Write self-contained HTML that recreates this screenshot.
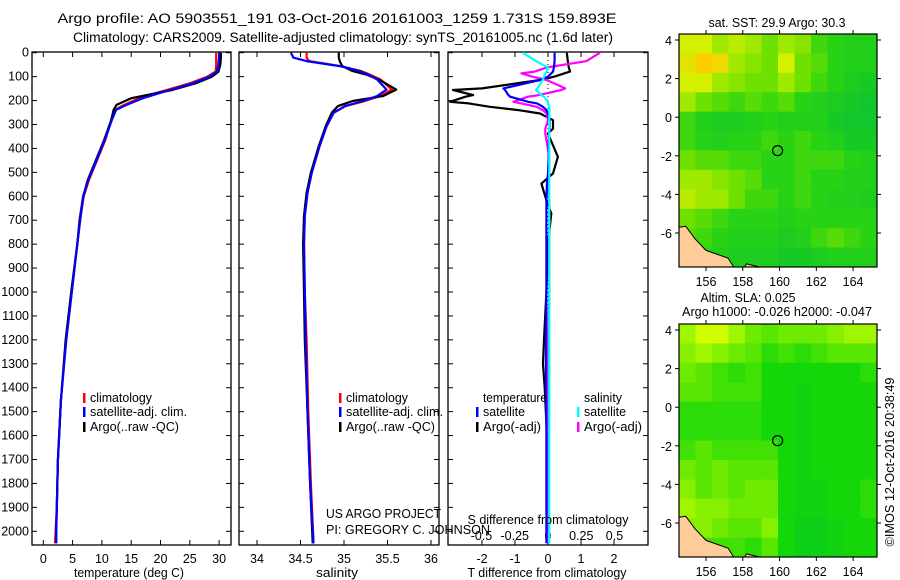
<!DOCTYPE html>
<html><head><meta charset="utf-8">
<style>
html,body{margin:0;padding:0;background:#fff;}
svg{display:block;font-family:"Liberation Sans",sans-serif;}
text{font-size:12.5px;fill:#000;}
</style></head><body>
<svg id="c" width="900" height="580" viewBox="0 0 900 580" xmlns="http://www.w3.org/2000/svg">
<text x="337" y="23" text-anchor="middle" style="font-size:13.5px" textLength="559" lengthAdjust="spacingAndGlyphs">Argo profile: AO 5903551_191 03-Oct-2016 20161003_1259 1.731S 159.893E</text>
<text x="343" y="42" text-anchor="middle" style="font-size:13.5px" textLength="540" lengthAdjust="spacingAndGlyphs">Climatology: CARS2009. Satellite-adjusted climatology: synTS_20161005.nc (1.6d later)</text>
<g id="g"></g>
</svg>
<script>
// ---- data ----
const depthsT = [0,20,50,79,100,128,156,190,218,239,281,364,448,531,601,698,800,993,1202,1453,1703,1900,2000,2050];
const tempClimSat = [30.0,30.0,29.9,29.6,28.4,25.5,21.6,17.0,14.2,12.4,11.7,10.5,9.1,7.7,6.8,6.3,5.8,4.9,3.9,3.0,2.5,2.3,2.2,2.2];
const tempClim = [29.5,29.5,29.5,29.4,28.0,25.0,21.0,16.3,13.8,12.2,11.6,10.6,9.2,7.8,6.9,6.3,5.8,4.9,3.9,3.0,2.5,2.3,2.1,2.0];
const tempArgo = [30.3,30.3,30.2,29.9,28.8,26.0,22.0,15.0,12.5,12.0,11.6,10.4,9.0,7.6,6.8,6.2,5.8,4.8,3.8,3.0,2.5,2.3,2.2,2.2];
const depthsS = [0,21,35,56,77,92,112,154,181,202,223,251,307,390,501,585,682,800,1000,1200,1500,1800,2050];
const salClimSat = [34.39,34.42,34.57,34.95,35.18,35.28,35.38,35.49,35.38,35.22,35.01,34.88,34.80,34.72,34.63,34.58,34.55,34.54,34.55,34.56,34.58,34.61,34.65];
const salClim = [34.57,34.57,34.60,34.96,35.20,35.30,35.42,35.55,35.42,35.24,35.02,34.88,34.80,34.72,34.63,34.58,34.55,34.54,34.55,34.57,34.59,34.62,34.65];
const salArgo = [34.94,34.94,34.95,34.98,35.10,35.26,35.40,35.60,35.45,35.10,34.93,34.86,34.79,34.71,34.62,34.57,34.54,34.53,34.54,34.55,34.58,34.61,34.64];
const depthsD = [0,35,62,79,86,100,114,149,156,177,184,205,212,226,240,254,282,317,338,435,505,547,617,672,800,1000,1200,1300,1400,1600,1800,2050];
const dTArgo = [0.57,0.6,0.63,0.67,0.5,0.2,-0.24,-2.0,-2.88,-2.27,-2.5,-2.97,-2.4,-1.76,-0.9,-0.24,0.15,0.15,0.0,0.3,0.15,-0.2,-0.05,0.1,0.0,-0.05,-0.12,-0.15,-0.1,-0.03,0.0,0.0];
const dTSat = [0.2,0.2,0.18,0.15,0.1,0.0,-0.24,-1.35,-1.3,-1.2,-1.15,-0.6,-0.33,-0.15,-0.05,0.0,0.05,0.05,0.03,0.02,0.0,-0.03,-0.05,-0.05,-0.05,-0.05,-0.06,-0.06,-0.06,-0.05,-0.05,-0.05];
const dSArgo = [0.39,0.29,-0.01,-0.1,-0.2,-0.12,-0.01,0.13,0.1,-0.07,-0.15,-0.26,-0.2,-0.085,-0.04,-0.01,0.0,-0.02,-0.02,0.01,0.01,0.0,0.01,0.01,0.01,0.01,0.0,0.0,0.0,0.0,0.0,0.0];
const dSSat = [-0.19,-0.09,0.0,-0.01,-0.02,-0.03,-0.04,-0.08,-0.09,-0.05,-0.03,0.0,0.0,0.01,0.01,0.01,0.01,0.01,0.01,0.01,0.01,0.01,0.01,0.01,0.01,0.01,0.01,0.01,0.01,0.01,0.01,0.01];
const depthTicks = [0,100,200,300,400,500,600,700,800,900,1000,1100,1200,1300,1400,1500,1600,1700,1800,1900,2000];
const tTicks = [0,5,10,15,20,25,30];
const sTicks = [34,34.5,35,35.5,36];
const dTTicks = [-2,-1,0,1,2];
const dSTicks = [-0.5,-0.25,0,0.25,0.5];
const dSTickLabels = ["-0.5","-0.25","0","0.25","0.5"];
const sstGrid = [
[0.7,0.7,0.6,0.65,0.6,0.5,0.6,0.55,0.4,0.35,0.3,0.3],
[0.75,0.85,0.8,0.6,0.55,0.5,0.7,0.5,0.45,0.35,0.3,0.3],
[0.7,0.7,0.6,0.55,0.5,0.5,0.6,0.5,0.4,0.35,0.25,0.2],
[0.6,0.5,0.45,0.4,0.45,0.4,0.45,0.35,0.3,0.25,0.2,0.15],
[0.4,0.3,0.25,0.25,0.3,0.35,0.3,0.3,0.3,0.2,0.15,0.15],
[0.4,0.35,0.3,0.35,0.35,0.4,0.35,0.4,0.35,0.3,0.2,0.2],
[0.5,0.45,0.45,0.4,0.4,0.35,0.35,0.4,0.4,0.4,0.35,0.3],
[0.6,0.6,0.55,0.5,0.45,0.35,0.35,0.4,0.35,0.35,0.3,0.3],
[0.65,0.6,0.6,0.5,0.4,0.4,0.35,0.4,0.35,0.3,0.3,0.25],
[0.5,0.45,0.4,0.35,0.35,0.35,0.3,0.35,0.35,0.35,0.35,0.35],
[0.45,0.4,0.35,0.3,0.3,0.3,0.25,0.3,0.4,0.45,0.4,0.35],
[0.4,0.35,0.3,0.25,0.25,0.25,0.2,0.2,0.25,0.3,0.3,0.3]];
const slaGrid = [
[0.6,0.7,0.7,0.6,0.5,0.45,0.5,0.5,0.5,0.55,0.6,0.6],
[0.55,0.6,0.55,0.5,0.45,0.35,0.4,0.35,0.4,0.45,0.45,0.45],
[0.5,0.45,0.4,0.35,0.4,0.3,0.3,0.3,0.3,0.3,0.3,0.35],
[0.45,0.45,0.4,0.4,0.4,0.3,0.3,0.25,0.3,0.3,0.3,0.3],
[0.35,0.35,0.35,0.35,0.35,0.3,0.3,0.25,0.3,0.3,0.3,0.3],
[0.35,0.35,0.35,0.35,0.35,0.3,0.3,0.25,0.3,0.3,0.3,0.3],
[0.4,0.45,0.4,0.4,0.4,0.4,0.3,0.25,0.3,0.3,0.3,0.3],
[0.5,0.45,0.5,0.45,0.45,0.45,0.3,0.25,0.3,0.3,0.3,0.3],
[0.55,0.45,0.5,0.45,0.5,0.5,0.3,0.25,0.25,0.3,0.3,0.35],
[0.6,0.55,0.55,0.5,0.5,0.5,0.3,0.25,0.25,0.3,0.3,0.35],
[0.55,0.55,0.5,0.45,0.45,0.55,0.3,0.2,0.2,0.25,0.3,0.3],
[0.4,0.4,0.4,0.4,0.35,0.45,0.3,0.2,0.2,0.25,0.3,0.3]];
const lonTicks = [156,158,160,162,164];
const latTicks = [4,2,0,-2,-4,-6];
const argoLon = 159.893, argoLat = -1.731;

// ---- helpers ----
const NS = "http://www.w3.org/2000/svg";
const G = document.getElementById('g');
function mk(tag, attrs, parent){const e=document.createElementNS(NS,tag);for(const k in attrs)e.setAttribute(k,attrs[k]);(parent||G).appendChild(e);return e;}
function txt(x,y,s,anchor,parent,len){const e=mk('text',{x:x,y:y,'text-anchor':anchor||'start'},parent);if(len){e.setAttribute('textLength',len);e.setAttribute('lengthAdjust','spacingAndGlyphs');}e.textContent=s;return e;}
const top0=52.7, dScale=0.2393, pTop=52, pBot=545;
const yD = d => top0 + dScale*d;
const xT = t => 43.3 + 5.86*t;
const xS = s => 257 + 87*(s-34);
const xdT = v => 548 + 33*v;
const xdS = v => 548 + 133*v;

function frame(x0,x1,name){
  const r=mk('rect',{x:x0,y:pTop,width:x1-x0,height:pBot-pTop,fill:'none',stroke:'#000','stroke-width':1.3});
  
  
  depthTicks.forEach(d=>{
    mk('line',{x1:x0,x2:x0+5,y1:yD(d),y2:yD(d),stroke:'#000'});
    mk('line',{x1:x1,x2:x1-5,y1:yD(d),y2:yD(d),stroke:'#000'});
  });
}
function xTicks(ticks,labels,fx,name,inner){
  const g=mk('g',{});
  
  
  ticks.forEach((t,i)=>{
    const x=fx(t);
    if(!inner){
      mk('line',{x1:x,x2:x,y1:pBot,y2:pBot-5,stroke:'#000'},g);
      mk('line',{x1:x,x2:x,y1:pTop,y2:pTop+5,stroke:'#000'},g);
      txt(x,563,labels[i],'middle',g);
    } else {
      txt(x,540,labels[i],'middle',g);
    }
  });
}
function line(xs,ds,fx,color,name,w){
  const pts=xs.map((v,i)=>fx(v).toFixed(1)+','+yD(ds[i]).toFixed(1)).join(' ');
  const p=mk('polyline',{points:pts,fill:'none',stroke:color,'stroke-width':w||2.2,'stroke-linejoin':'round'});
  
  
}
function legendItem(x,y,color,label,name,len){
  const g=mk('g',{});
  
  
  if(color) mk('rect',{x:x,y:y-9,width:2.5,height:10,fill:color},g);
  txt(x+7,y,label,'start',g,len);
}

// depth labels
const dl=mk('g',{});


depthTicks.forEach(d=>txt(29,yD(d)+4,String(d),'end',dl));

// Panel 1 temperature
frame(32,231,'temperature-panel');
xTicks(tTicks,tTicks.map(String),xT,'temperature-x-axis');
line(tempClim,depthsT,xT,'#ff0000','temp-climatology-line');
line(tempArgo,depthsT,xT,'#000000','temp-argo-line');
line(tempClimSat,depthsT,xT,'#0000ff','temp-satellite-clim-line');
txt(129,577,'temperature (deg C)','middle',null,110);
legendItem(83,402,'#ff0000','climatology','legend-climatology',62);
legendItem(83,416,'#0000ff','satellite-adj. clim.','legend-satellite-clim',97);
legendItem(83,431,'#000000','Argo(..raw -QC)','legend-argo',89);

// Panel 2 salinity
frame(239,439,'salinity-panel');
xTicks(sTicks,['34','34.5','35','35.5','36'],xS,'salinity-x-axis');
line(salClim,depthsS,xS,'#ff0000','sal-climatology-line');
line(salArgo,depthsS,xS,'#000000','sal-argo-line');
line(salClimSat,depthsS,xS,'#0000ff','sal-satellite-clim-line');
txt(337,577,'salinity','middle',null,42);
legendItem(339,402,'#ff0000','climatology','legend2-climatology',62);
legendItem(339,416,'#0000ff','satellite-adj. clim.','legend2-satellite-clim',97);
legendItem(339,431,'#000000','Argo(..raw -QC)','legend2-argo',89);
txt(326,518,'US ARGO PROJECT','start',null,115);
txt(326,534,'PI: GREGORY C. JOHNSON','start',null,164);

// Panel 3 differences
frame(448,648,'difference-panel');
xTicks(dTTicks,dTTicks.map(String),xdT,'t-difference-x-axis');
xTicks(dSTicks,dSTickLabels,xdS,'s-difference-axis-labels',true);
const zl=mk('line',{x1:548,x2:548,y1:pTop,y2:pBot,stroke:'#000','stroke-dasharray':'1,3'});


line(dTArgo,depthsD,xdT,'#000000','dT-argo-line');
line(dSArgo,depthsD,xdS,'#ff00ff','dS-argo-line');
line(dTSat,depthsD,xdT,'#0000ff','dT-satellite-line');
line(dSSat,depthsD,xdS,'#00ffff','dS-satellite-line');
txt(547,577,'T difference from climatology','middle',null,159);
txt(548,524,'S difference from climatology','middle',null,161);
legendItem(476,402,null,'temperature','legend3-temperature-header',64);
legendItem(577,402,null,'salinity','legend3-salinity-header',38);
legendItem(476,416,'#0000ff','satellite','legend3-t-satellite',42);
legendItem(476,431,'#000000','Argo(-adj)','legend3-t-argo',58);
legendItem(577,416,'#00ffff','satellite','legend3-s-satellite',42);
legendItem(577,431,'#ff00ff','Argo(-adj)','legend3-s-argo',58);

// Maps
const lon0=154.53, lon1=165.3, lat0=4.31, lat1=-7.76;
function colSST(v){
  const stops=[[0,[0,190,60]],[0.35,[40,210,20]],[0.5,[110,225,0]],[0.7,[210,240,0]],[0.85,[255,204,0]],[1,[255,153,0]]];
  return interp(stops,v);
}
function colSLA(v){
  const stops=[[0,[0,190,50]],[0.3,[20,215,10]],[0.5,[110,235,0]],[0.7,[210,255,0]],[1,[255,255,0]]];
  return interp(stops,v);
}
function interp(stops,v){
  for(let i=1;i<stops.length;i++){if(v<=stops[i][0]){const a=stops[i-1],b=stops[i];const f=(v-a[0])/(b[0]-a[0]);
    return 'rgb('+a[1].map((c,k)=>Math.round(c+(b[1][k]-c)*f)).join(',')+')';}}
  return 'rgb('+stops[stops.length-1][1].join(',')+')';
}
function map(x0,x1,y0,y1,grid,cf,name){
  const g=mk('g',{});
  
  
  const xl=lon=>x0+(lon-lon0)/(lon1-lon0)*(x1-x0);
  const yl=lat=>y0+(lat0-lat)/(lat0-lat1)*(y1-y0);
  const nr=grid.length,nc=grid[0].length, cw=(x1-x0)/nc, ch=(y1-y0)/nr;
  grid.forEach((row,r)=>row.forEach((v,c)=>{
    const cell=mk('rect',{x:x0+c*cw,y:y0+r*ch,width:cw+0.5,height:ch+0.5,fill:cf(v)},g);
    
    
  }));
  const land=mk('polygon',{points:[[154.53,-5.7],[154.9,-5.65],[155.4,-6.3],[156,-6.9],[156.6,-7.1],[157.2,-7.3],[157.5,-7.76],[154.53,-7.76]].map(p=>xl(p[0])+','+yl(p[1])).join(' '),fill:'#ffcc99',stroke:'#000','stroke-width':1},g);
  
  
  const land2=mk('polygon',{points:[[158.2,-7.6],[158.9,-7.76],[158.1,-7.76]].map(p=>xl(p[0])+','+yl(p[1])).join(' '),fill:'#ffcc99',stroke:'#000','stroke-width':1},g);
  
  
  mk('rect',{x:x0,y:y0,width:x1-x0,height:y1-y0,fill:'none',stroke:'#000','stroke-width':1.2},g);
  lonTicks.forEach(l=>{const x=xl(l);mk('line',{x1:x,x2:x,y1:y1,y2:y1+4,stroke:'#000'},g);mk('line',{x1:x,x2:x,y1:y0,y2:y0-4,stroke:'#000'},g);txt(x,y1+19,String(l),'middle',g);});
  latTicks.forEach(l=>{const y=yl(l);mk('line',{x1:x0,x2:x0-4,y1:y,y2:y,stroke:'#000'},g);mk('line',{x1:x1,x2:x1+4,y1:y,y2:y,stroke:'#000'},g);txt(x0-7,y+5,String(l),'end',g);});
  const c=mk('circle',{cx:xl(argoLon),cy:yl(argoLat),r:5,fill:'none',stroke:'#000','stroke-width':1.2},g);
  
  
}
map(679,877,34,267,sstGrid,colSST,'sst-map');
map(679,877,324,557,slaGrid,colSLA,'sla-map');
txt(777,27,'sat. SST: 29.9 Argo: 30.3','middle',null,137);
txt(748,302,'Altim. SLA: 0.025','middle',null,95);
txt(777,316,'Argo h1000: -0.026 h2000: -0.047','middle',null,190);
const cr=txt(0,0,'©IMOS 12-Oct-2016 20:38:49','middle',null,169);
cr.setAttribute('transform','translate(894,462) rotate(-90)');

</script>
</body></html>
